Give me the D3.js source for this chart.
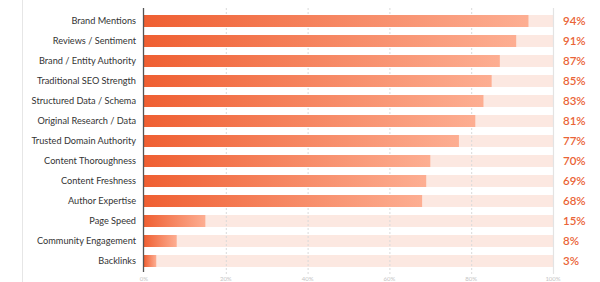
<!DOCTYPE html>
<html><head><meta charset="utf-8">
<script src="https://cdn.jsdelivr.net/npm/d3@7"></script>
<style>body{margin:0;background:#fff}svg{display:block}</style>
</head><body>
<svg id="c" width="600" height="282"></svg>
<script>
const categories = ["Brand Mentions","Reviews / Sentiment","Brand / Entity Authority","Traditional SEO Strength","Structured Data / Schema","Original Research / Data","Trusted Domain Authority","Content Thoroughness","Content Freshness","Author Expertise","Page Speed","Community Engagement","Backlinks"];
const values = [94,91,87,85,83,81,77,70,69,68,15,8,3];
const tickValues = [0,20,40,60,80,100];
const tickLabels = ["0%","20%","40%","60%","80%","100%"];

const svg = d3.select("#c");
const x = d3.scaleLinear().domain([0,100]).range([144,553]);
const y = d3.scaleBand().domain(categories).range([11,271]).paddingInner(0.4).paddingOuter(0.2);

const defs = svg.append("defs");
const g = defs.append("linearGradient").attr("id","gr").attr("x1","0").attr("x2","1").attr("y1","0").attr("y2","0");
g.append("stop").attr("offset","0").attr("stop-color","#ef5f32");
g.append("stop").attr("offset","1").attr("stop-color","#fdae92");

// left faint frame line
svg.append("line").attr("x1",22.5).attr("x2",22.5).attr("y1",0).attr("y2",282).attr("stroke","#e6e6e6").attr("stroke-width",1);

// tracks
svg.selectAll(".track").data(categories).join("rect")
  .attr("x",x(0)).attr("y",d=>y(d)).attr("width",x(100)-x(0)).attr("height",y.bandwidth())
  .attr("fill","#fce8e1");

// grid lines
svg.selectAll(".grid").data(tickValues.slice(1,5)).join("line")
  .attr("x1",d=>x(d)+0.5).attr("x2",d=>x(d)+0.5).attr("y1",8).attr("y2",274)
  .attr("stroke","#d9d9d9").attr("stroke-dasharray","2,2").attr("stroke-width",1);

// right border
svg.append("line").attr("x1",x(100)+0.5).attr("x2",x(100)+0.5).attr("y1",8).attr("y2",274).attr("stroke","#e3e3e3").attr("stroke-width",1.2);

// bars
svg.selectAll(".bar").data(values).join("rect")
  .attr("x",x(0)).attr("y",(d,i)=>y(categories[i])).attr("width",d=>x(d)-x(0)).attr("height",y.bandwidth())
  .attr("fill","url(#gr)");

// axis line
svg.append("line").attr("x1",143.5).attr("x2",143.5).attr("y1",8).attr("y2",272).attr("stroke","#555").attr("stroke-width",1.3);

// category labels
svg.selectAll(".cat").data(categories).join("text")
  .attr("x",136).attr("y",d=>y(d)+y.bandwidth()/2).attr("dy","0.35em")
  .attr("text-anchor","end").attr("font-family","Lato, sans-serif").attr("font-size",9.2)
  .attr("fill","#333").text(d=>d);

// value labels
svg.selectAll(".val").data(values).join("text")
  .attr("x",563).attr("y",(d,i)=>y(categories[i])+y.bandwidth()/2).attr("dy","0.38em")
  .attr("font-family","Lato, sans-serif").attr("font-size",11.5).attr("font-weight",600)
  .attr("fill","#ea6437").text(d=>d+"%");

// x tick labels
svg.selectAll(".tick").data(tickValues).join("text")
  .attr("x",d=>x(d)).attr("y",281).attr("text-anchor","middle")
  .attr("font-family","Lato, sans-serif").attr("font-size",6).attr("fill","#c4c4c4")
  .text((d,i)=>tickLabels[i]);
</script>
</body></html>
